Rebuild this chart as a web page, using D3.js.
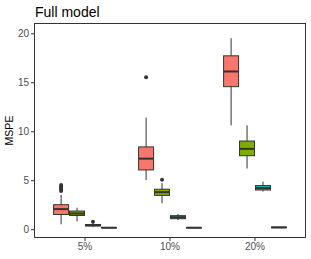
<!DOCTYPE html>
<html>
<head>
<meta charset="utf-8">
<script src="https://cdn.jsdelivr.net/npm/d3@7"></script>
<style>
  body { margin: 0; background: #fff; }
  text { font-family: "Liberation Sans", Arial, sans-serif; }
</style>
</head>
<body>
<script>
const width = 311;
const height = 259;
const margin = {top: 23, right: 5, bottom: 21, left: 34};

const categories = ["5%", "10%", "20%"];
const models = ["A", "B", "C", "D"];
const colors = ["#F8766D", "#7CAE00", "#00BFC4", "#C77CFF"];
const yTicks = [0, 5, 10, 15, 20];

// five-number summaries: [lower whisker, q1, median, q3, upper whisker]
const stats5 = [
  [0.5, 1.5, 2.05, 2.5, 3.5],
  [0.8, 1.4, 1.6, 1.85, 2.2],
  [0.2, 0.33, 0.4, 0.48, 0.62],
  [0.1, 0.13, 0.15, 0.17, 0.2]
];
const stats10 = [
  [5.0, 6.05, 7.2, 8.4, 11.4],
  [2.65, 3.45, 3.78, 4.08, 4.7],
  [0.95, 1.07, 1.22, 1.38, 1.56],
  [0.1, 0.13, 0.15, 0.17, 0.2]
];
const stats20 = [
  [10.6, 14.55, 16.1, 17.7, 19.5],
  [6.2, 7.5, 8.2, 9.0, 10.6],
  [3.85, 4.0, 4.2, 4.45, 4.85],
  [0.12, 0.15, 0.18, 0.21, 0.24]
];
const outliers5 = [[4.5, 4.35, 4.2, 4.05, 3.9], [], [0.75], []];
const outliers10 = [[15.5], [5.05], [], []];
const outliers20 = [[], [], [], []];

const statsByCat = [stats5, stats10, stats20];
const outByCat = [outliers5, outliers10, outliers20];

const svg = d3.select("body").append("svg")
    .attr("width", width)
    .attr("height", height);

const x = d3.scaleBand()
    .domain(categories)
    .range([margin.left, width - margin.right])
    .paddingOuter(0.1)
    .paddingInner(0);
// inner dodge positions
const xm = d3.scaleBand()
    .domain(models)
    .range([0, x.bandwidth() * 0.75]);

const y = d3.scaleLinear()
    .domain([-0.9, 21.05])
    .range([height - margin.bottom, margin.top]);

const ink = "#333333";
const boxW = xm.bandwidth() * 0.94;

categories.forEach((cat, ci) => {
  const g0 = x(cat) + x.bandwidth() * 0.125;
  models.forEach((m, mi) => {
    const s = statsByCat[ci][mi];
    const cx = g0 + xm(m) + xm.bandwidth() / 2;
    const g = svg.append("g");
    g.append("line")
        .attr("x1", cx).attr("x2", cx)
        .attr("y1", y(s[0])).attr("y2", y(s[4]))
        .attr("stroke", ink).attr("stroke-width", 1);
    g.append("rect")
        .attr("x", cx - boxW / 2)
        .attr("y", y(s[3]))
        .attr("width", boxW)
        .attr("height", Math.max(0, y(s[1]) - y(s[3])))
        .attr("fill", colors[mi])
        .attr("stroke", ink)
        .attr("stroke-width", 1);
    g.append("line")
        .attr("x1", cx - boxW / 2).attr("x2", cx + boxW / 2)
        .attr("y1", y(s[2])).attr("y2", y(s[2]))
        .attr("stroke", ink).attr("stroke-width", 2);
    g.selectAll("circle")
        .data(outByCat[ci][mi])
        .join("circle")
        .attr("cx", cx)
        .attr("cy", d => y(d))
        .attr("r", 2)
        .attr("fill", ink);
  });
});

// panel border
svg.append("rect")
    .attr("x", margin.left + 0.5)
    .attr("y", margin.top + 0.5)
    .attr("width", width - margin.left - margin.right - 1)
    .attr("height", height - margin.top - margin.bottom - 1)
    .attr("fill", "none")
    .attr("stroke", ink)
    .attr("stroke-width", 1);

// axes
const yAxis = svg.append("g")
    .attr("transform", `translate(${margin.left},0)`)
    .call(d3.axisLeft(y).tickValues(yTicks).tickSize(3).tickPadding(2));
const xAxis = svg.append("g")
    .attr("transform", `translate(0,${height - margin.bottom})`)
    .call(d3.axisBottom(x).tickSize(3).tickPadding(2));
[yAxis, xAxis].forEach(a => {
  a.select(".domain").remove();
  a.selectAll(".tick line").attr("stroke", ink);
  a.selectAll(".tick text")
      .attr("fill", "#4d4d4d")
      .style("font-size", "10px")
      .style("font-family", "'Liberation Sans', Arial, sans-serif");
});

svg.append("text")
    .attr("x", margin.left + 1)
    .attr("y", 17)
    .style("font-size", "14px")
    .attr("fill", "#000")
    .text("Full model");

svg.append("text")
    .attr("transform", `translate(13,${(margin.top + height - margin.bottom) / 2}) rotate(-90)`)
    .attr("text-anchor", "middle")
    .style("font-size", "10.5px")
    .attr("fill", "#000")
    .text("MSPE");
</script>
</body>
</html>
